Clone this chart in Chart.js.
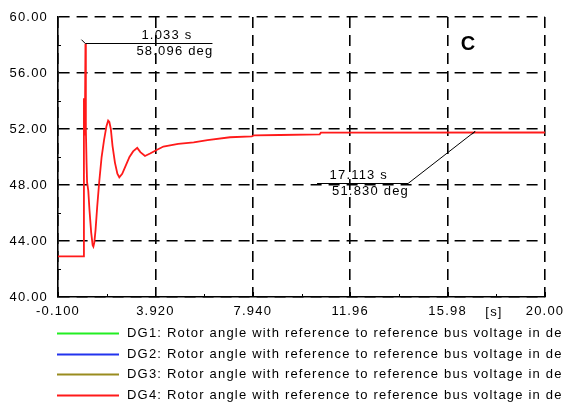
<!DOCTYPE html>
<html>
<head>
<meta charset="utf-8">
<script src="https://cdn.jsdelivr.net/npm/chart.js@4.4.1/dist/chart.umd.min.js"></script>
<style>
  html, body { margin: 0; padding: 0; background: #fff; }
</style>
</head>
<body>
<canvas id="rotorChart" width="563" height="405"></canvas>
<script>
// series names (legend text) and DG4 rotor angle trace
const seriesNames = [
  "DG1: Rotor angle with reference to reference bus voltage in deg",
  "DG2: Rotor angle with reference to reference bus voltage in deg",
  "DG3: Rotor angle with reference to reference bus voltage in deg",
  "DG4: Rotor angle with reference to reference bus voltage in deg",
];
const dg4Time = [-0.1, 0.96, 0.97, 0.99, 1.01, 1.033, 1.05, 1.08, 1.1, 1.15, 1.2,
  1.27, 1.33, 1.36, 1.4, 1.45, 1.52, 1.6, 1.7, 1.8, 1.9,
  1.97, 2.02, 2.08, 2.15, 2.25, 2.35, 2.43, 2.55, 2.7, 2.85,
  3.0, 3.17, 3.3, 3.49, 3.7, 3.97, 4.25, 4.86, 5.5, 6.07,
  7.0, 7.9, 8.0, 9.06, 10.7, 10.75, 20.0];
const dg4Angle = [42.9, 42.9, 54.2, 51.6, 52.2, 58.096, 52.0, 49.5, 48.2, 47.6, 46.2,
  44.6, 43.7, 43.6, 43.9, 44.8, 46.5, 48.2, 50.0, 51.2, 52.2,
  52.6, 52.5, 52.0, 50.8, 49.6, 48.8, 48.55, 48.8, 49.4, 50.0,
  50.4, 50.65, 50.35, 50.07, 50.25, 50.5, 50.75, 50.93, 51.05, 51.21,
  51.41, 51.47, 51.55, 51.57, 51.62, 51.74, 51.75];

const xTickValues = [-0.1, 3.92, 7.94, 11.96, 15.98, 20.0];
const xTickLabels = ["-0.100", "3.920", "7.940", "11.96", "15.98", "20.00"];
const yTickValues = [40, 44, 48, 52, 56, 60];
const yTickLabels = ["40.00", "44.00", "48.00", "52.00", "56.00", "60.00"];

// cursor readouts
const markerTimes = [1.033, 17.113];
const markerAngles = [58.096, 51.830];
const markerTexts = [["1.033 s", "58.096 deg"], ["17.113 s", "51.830 deg"]];

const FONT = "13px 'Liberation Sans', Arial, sans-serif";
const SPACING = "1.2px";

const spacingPlugin = {
  id: "spacing",
  beforeUpdate(chart) { chart.ctx.letterSpacing = SPACING; },
  beforeDraw(chart) { chart.ctx.letterSpacing = SPACING; },
};

// inward tick marks, the [s] unit, cursor labels, the panel letter and the legend
const decorPlugin = {
  id: "decor",
  afterDraw(chart) {
    const ctx = chart.ctx;
    const xs = chart.scales.x, ys = chart.scales.y;
    const area = chart.chartArea;
    ctx.save();
    ctx.letterSpacing = SPACING;
    ctx.strokeStyle = "#000";
    ctx.lineWidth = 1;

    // x ticks (major + minor), pointing into the plot
    for (let i = 0; i < xTickValues.length; i++) {
      const px = Math.round(xs.getPixelForValue(xTickValues[i])) + 0.5;
      ctx.beginPath(); ctx.moveTo(px, area.bottom); ctx.lineTo(px, area.bottom - 5); ctx.stroke();
      if (i > 0) {
        const mid = (xTickValues[i] + xTickValues[i - 1]) / 2;
        const mx = Math.round(xs.getPixelForValue(mid)) + 0.5;
        ctx.beginPath(); ctx.moveTo(mx, area.bottom); ctx.lineTo(mx, area.bottom - 3); ctx.stroke();
      }
    }
    for (let i = 1; i < yTickValues.length; i++) {
      const mid = (yTickValues[i] + yTickValues[i - 1]) / 2;
      const my = Math.round(ys.getPixelForValue(mid)) + 0.5;
      ctx.beginPath(); ctx.moveTo(area.left, my); ctx.lineTo(area.left + 3, my); ctx.stroke();
    }

    ctx.font = FONT;
    ctx.fillStyle = "#000";
    ctx.textBaseline = "middle";
    ctx.textAlign = "center";
    ctx.fillText("[s]", 494, 312);

    // cursor readouts
    const leaders = [
      { ex: 0, ey: 0, len: 127, tick: [-4, -4] },
      { ex: -67, ey: 52.6, len: -91, tick: [-3, 3] },
    ];
    for (let i = 0; i < markerTimes.length; i++) {
      const px = xs.getPixelForValue(markerTimes[i]);
      const py = ys.getPixelForValue(markerAngles[i]);
      const L = leaders[i];
      const ex = px + L.ex, ey = Math.round(py + L.ey) - 0.5;
      ctx.beginPath();
      ctx.moveTo(px + L.tick[0], py + L.tick[1]);
      ctx.lineTo(px, py);
      ctx.lineTo(ex, ey);
      ctx.lineTo(ex + L.len, ey);
      ctx.stroke();
      const right = Math.max(ex, ex + L.len);
      ctx.textAlign = "right";
      ctx.fillText(markerTexts[i][0], right - 20, ey - 8);
      ctx.fillText(markerTexts[i][1], right + 1, ey + 8);
    }

    ctx.font = "bold 20px 'Liberation Sans', Arial, sans-serif";
    ctx.textAlign = "center";
    ctx.letterSpacing = "0px";
    ctx.fillText("C", 468, 44);

    // legend
    ctx.font = FONT;
    ctx.letterSpacing = SPACING;
    ctx.textAlign = "left";
    chart.data.datasets.forEach((ds, i) => {
      const y = Math.round(333 + i * 20.7) + 0.5;
      ctx.strokeStyle = ds.borderColor;
      ctx.lineWidth = 2;
      ctx.beginPath(); ctx.moveTo(57, y); ctx.lineTo(119, y); ctx.stroke();
      ctx.fillStyle = "#000";
      ctx.fillText(ds.label, 127, y);
    });
    ctx.restore();
  },
};

const colors = ["#22ee22", "#2233ee", "#998c1f", "#ff1a1a"];
const datasets = seriesNames.map((name, i) => ({
  label: name,
  data: i === 3 ? dg4Time.map((t, k) => ({ x: t, y: dg4Angle[k] })) : [],
  borderColor: colors[i],
  borderWidth: 1.8,
  pointRadius: 0,
  tension: 0,
}));

new Chart(document.getElementById("rotorChart"), {
  type: "line",
  data: { datasets: datasets },
  options: {
    responsive: false,
    animation: false,
    devicePixelRatio: 1,
    layout: { padding: { left: 0, right: 18, top: 17, bottom: 0 } },
    plugins: { legend: { display: false }, tooltip: { enabled: false } },
    scales: {
      x: {
        type: "linear",
        min: -0.1,
        max: 20,
        afterBuildTicks: (s) => { s.ticks = xTickValues.map((v) => ({ value: v })); },
        afterFit: (s) => { s.height = 108; s.paddingLeft = 0; s.paddingRight = 0; },
        ticks: {
          autoSkip: false,
          maxRotation: 0,
          padding: 7,
          color: "#000",
          font: { family: "'Liberation Sans', Arial, sans-serif", size: 13 },
          callback: (v, i) => xTickLabels[i],
        },
        grid: { color: "#000", lineWidth: 1.6, drawTicks: false },
        border: { display: true, color: "#000", width: 1.6, dash: [11, 7] },
      },
      y: {
        min: 40,
        max: 60,
        afterBuildTicks: (s) => { s.ticks = yTickValues.map((v) => ({ value: v })); },
        afterFit: (s) => { s.width = 58; s.paddingTop = 0; s.paddingBottom = 0; },
        ticks: {
          padding: 10,
          color: "#000",
          font: { family: "'Liberation Sans', Arial, sans-serif", size: 13 },
          callback: (v, i) => yTickLabels[i],
        },
        grid: { color: "#000", lineWidth: 1.6, drawTicks: false },
        border: { display: true, color: "#000", width: 1.6, dash: [11, 7] },
      },
    },
  },
  plugins: [spacingPlugin, decorPlugin],
});
</script>
</body>
</html>
